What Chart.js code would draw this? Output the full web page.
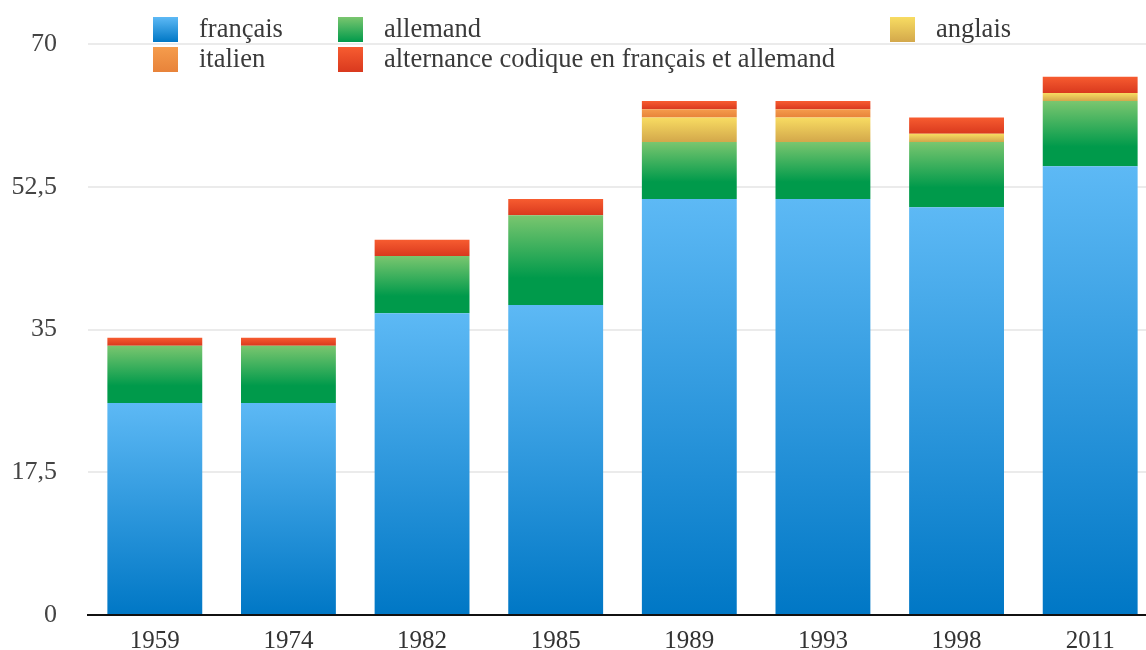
<!DOCTYPE html>
<html>
<head>
<meta charset="utf-8">
<script src="https://cdn.jsdelivr.net/npm/chart.js@4/dist/chart.umd.min.js"></script>
<style>
    html, body { margin: 0; padding: 0; background: #fff; overflow: hidden; }
    #wrap { width: 1157px; height: 667px; position: relative; }
</style>
</head>
<body>
<div id="wrap"><canvas id="langChart"></canvas></div>
<script>
// Data
const years = ['1959', '1974', '1982', '1985', '1989', '1993', '1998', '2011'];
const francais = [26, 26, 37, 38, 51, 51, 50, 55];
const allemand = [7, 7, 7, 11, 7, 7, 8, 8];
const anglais = [0, 0, 0, 0, 3, 3, 1, 1];
const italien = [0, 0, 0, 0, 1, 1, 0, 0];
const alternance = [1, 1, 2, 2, 1, 1, 2, 2];
const yTicks = [0, 17.5, 35, 52.5, 70];

// Gradient stops per series (top colour, bottom colour)
const palette = [
    ['#5db9f5', '#0077c5'],
    ['#7ac66f', '#009a4b'],
    ['#f8dc62', '#d3a84b'],
    ['#f59c4c', '#e8833a'],
    ['#f75c30', '#d9391e']
];

const series = [
    { label: 'français', data: francais },
    { label: 'allemand', data: allemand },
    { label: 'anglais', data: anglais },
    { label: 'italien', data: italien },
    { label: 'alternance codique en français et allemand', data: alternance }
];

// Build a vertical gradient over one stacked segment
function segmentColor(context) {
    const chart = context.chart;
    const dsIndex = context.datasetIndex;
    const stops = palette[dsIndex];
    if (!chart.chartArea || context.type !== 'data') return stops[0];
    const i = context.dataIndex;
    let start = 0;
    for (let d = 0; d < dsIndex; d++) start += series[d].data[i];
    const end = start + series[dsIndex].data[i];
    const y = chart.scales.y;
    const top = y.getPixelForValue(end);
    const bottom = y.getPixelForValue(start);
    if (bottom - top < 1) return stops[0];
    const g = chart.ctx.createLinearGradient(0, top, 0, bottom);
    g.addColorStop(0, stops[0]);
    g.addColorStop(dsIndex === 1 ? 0.7 : 1, stops[1]);
    g.addColorStop(1, stops[1]);
    return g;
}

// Legend laid out in two rows like the original
const legendSpots = [
    { x: 153, y: 17 },
    { x: 338, y: 17 },
    { x: 890, y: 17 },
    { x: 153, y: 47 },
    { x: 338, y: 47 }
];

const gridLegend = {
    id: 'gridLegend',
    afterDraw(chart) {
        const ctx = chart.ctx;
        ctx.save();
        ctx.font = '26.5px "Liberation Serif", "Times New Roman", serif';
        ctx.textBaseline = 'middle';
        chart.data.datasets.forEach((ds, k) => {
            const p = legendSpots[k];
            const g = ctx.createLinearGradient(0, p.y, 0, p.y + 25);
            g.addColorStop(0, palette[k][0]);
            g.addColorStop(1, palette[k][1]);
            ctx.fillStyle = g;
            ctx.fillRect(p.x, p.y, 25, 25);
            ctx.fillStyle = '#3a3a3a';
            ctx.fillText(ds.label, p.x + 46, p.y + 13);
        });
        ctx.restore();
    }
};

const ctx = document.getElementById('langChart').getContext('2d');
new Chart(ctx, {
    type: 'bar',
    data: {
        labels: years,
        datasets: series.map(s => ({
            label: s.label,
            data: s.data,
            backgroundColor: segmentColor,
            borderWidth: 0,
            barPercentage: 0.71,
            categoryPercentage: 1
        }))
    },
    options: {
        responsive: true,
        maintainAspectRatio: false,
        animation: false,
        devicePixelRatio: 1,
        layout: { padding: { top: 44, left: 0, right: 0, bottom: 0 } },
        plugins: {
            legend: { display: false },
            tooltip: { enabled: false }
        },
        scales: {
            x: {
                stacked: true,
                grid: { display: false, drawTicks: false },
                border: { display: true, color: '#111', width: 2 },
                ticks: {
                    padding: 11,
                    color: '#333',
                    font: { family: '"Liberation Serif", "Times New Roman", serif', size: 25 }
                }
            },
            y: {
                stacked: true,
                min: 0,
                max: 70,
                afterBuildTicks: scale => { scale.ticks = yTicks.map(v => ({ value: v })); },
                grid: { color: '#ebebeb', lineWidth: 2, drawTicks: false },
                border: { display: false },
                ticks: {
                    padding: 31,
                    color: '#444',
                    font: { family: '"Liberation Serif", "Times New Roman", serif', size: 26 },
                    callback: v => String(v).replace('.', ',')
                },
                afterFit: scale => {
                    scale.width = 88;
                    scale.paddingTop = 0;
                    scale.paddingBottom = 0;
                }
            }
        }
    },
    plugins: [gridLegend]
});
</script>
</body>
</html>
